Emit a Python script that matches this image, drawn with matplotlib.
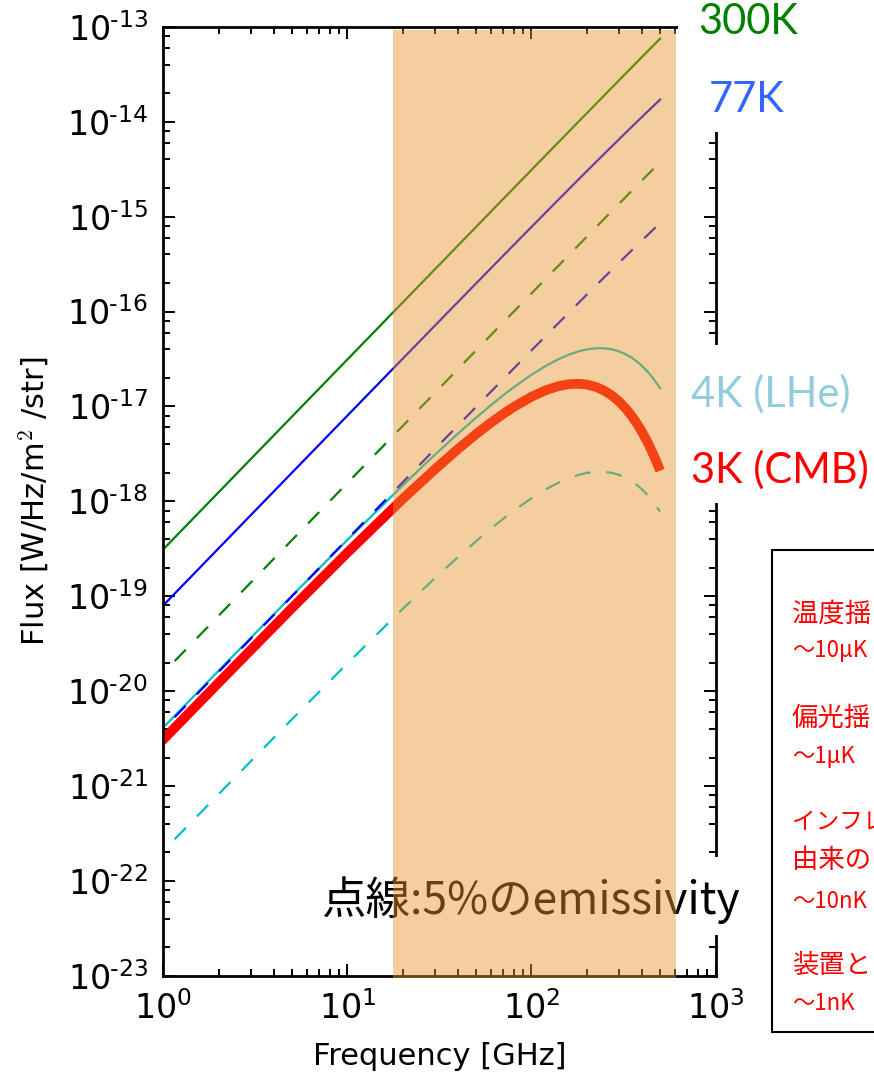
import numpy as np
import matplotlib
matplotlib.use("Agg")
import matplotlib.pyplot as plt
import matplotlib.transforms as mtransforms
from matplotlib.patches import Rectangle
from matplotlib.ticker import LogLocator, FixedLocator, FuncFormatter, NullFormatter

# ---------------------------------------------------------------- data
freq_ghz = [0.5, 1, 2, 5, 10, 20, 30, 40, 50, 60, 70, 80, 100, 120, 140, 160,
            180, 200, 225, 250, 275, 300, 325, 350, 375, 400, 425, 450, 475, 500]

flux_300k = [7.81e-20, 3.125e-19, 1.250e-18, 7.81e-18, 3.123e-17, 1.248e-16,
             2.806e-16, 4.985e-16, 7.78e-16, 1.120e-15, 1.523e-15, 1.988e-15,
             3.101e-15, 4.458e-15, 6.058e-15, 7.900e-15, 9.982e-15, 1.230e-14,
             1.554e-14, 1.915e-14, 2.312e-14, 2.746e-14, 3.216e-14, 3.723e-14,
             4.265e-14, 4.843e-14, 5.456e-14, 6.104e-14, 6.787e-14, 7.506e-14]

flux_77k = [2.005e-20, 8.02e-20, 3.207e-19, 2.003e-18, 7.998e-18, 3.189e-17,
            7.153e-17, 1.268e-16, 1.975e-16, 2.834e-16, 3.846e-16, 5.007e-16,
            7.775e-16, 1.113e-15, 1.505e-15, 1.953e-15, 2.456e-15, 3.013e-15,
            3.783e-15, 4.634e-15, 5.562e-15, 6.566e-15, 7.644e-15, 8.795e-15,
            1.002e-14, 1.130e-14, 1.266e-14, 1.407e-14, 1.555e-14, 1.709e-14]

flux_4k = [1.039e-21, 4.14e-21, 1.647e-20, 1.011e-19, 3.92e-19, 1.475e-18,
           3.12e-18, 5.20e-18, 7.60e-18, 1.024e-17, 1.303e-17, 1.589e-17,
           2.156e-17, 2.683e-17, 3.144e-17, 3.520e-17, 3.803e-17, 3.993e-17,
           4.105e-17, 4.096e-17, 3.984e-17, 3.795e-17, 3.548e-17, 3.266e-17,
           2.964e-17, 2.658e-17, 2.356e-17, 2.069e-17, 1.801e-17, 1.555e-17]

flux_cmb = [7.78e-22, 3.10e-21, 1.230e-20, 7.51e-20, 2.88e-19, 1.061e-18,
            2.19e-18, 3.57e-18, 5.10e-18, 6.70e-18, 8.31e-18, 9.86e-18,
            1.265e-17, 1.485e-17, 1.635e-17, 1.717e-17, 1.735e-17, 1.701e-17,
            1.601e-17, 1.459e-17, 1.294e-17, 1.121e-17, 9.53e-18, 7.96e-18,
            6.56e-18, 5.33e-18, 4.28e-18, 3.41e-18, 2.69e-18, 2.10e-18]

# 5% emissivity versions (dashed)
flux_300k_e5 = [3.91e-21, 1.56e-20, 6.25e-20, 3.91e-19, 1.56e-18, 6.24e-18,
                1.40e-17, 2.49e-17, 3.89e-17, 5.60e-17, 7.62e-17, 9.94e-17,
                1.55e-16, 2.23e-16, 3.03e-16, 3.95e-16, 4.99e-16, 6.15e-16,
                7.77e-16, 9.58e-16, 1.156e-15, 1.373e-15, 1.608e-15, 1.862e-15,
                2.133e-15, 2.422e-15, 2.728e-15, 3.052e-15, 3.394e-15, 3.753e-15]

flux_77k_e5 = [1.00e-21, 4.01e-21, 1.60e-20, 1.00e-19, 4.00e-19, 1.59e-18,
               3.58e-18, 6.34e-18, 9.87e-18, 1.42e-17, 1.92e-17, 2.50e-17,
               3.89e-17, 5.56e-17, 7.53e-17, 9.77e-17, 1.23e-16, 1.51e-16,
               1.89e-16, 2.32e-16, 2.78e-16, 3.28e-16, 3.82e-16, 4.40e-16,
               5.01e-16, 5.65e-16, 6.33e-16, 7.04e-16, 7.78e-16, 8.55e-16]

flux_4k_e5 = [5.20e-23, 2.07e-22, 8.24e-22, 5.06e-21, 1.96e-20, 7.38e-20,
              1.56e-19, 2.60e-19, 3.80e-19, 5.12e-19, 6.52e-19, 7.95e-19,
              1.078e-18, 1.342e-18, 1.572e-18, 1.760e-18, 1.902e-18, 1.997e-18,
              2.053e-18, 2.048e-18, 1.992e-18, 1.898e-18, 1.774e-18, 1.633e-18,
              1.482e-18, 1.329e-18, 1.178e-18, 1.035e-18, 9.01e-19, 7.78e-19]

band_ghz = [17.7, 611]

x_major = [1, 10, 100, 1000]
y_major = [1e-23, 1e-22, 1e-21, 1e-20, 1e-19, 1e-18, 1e-17, 1e-16, 1e-15,
           1e-14, 1e-13]

temp_labels = ["300K", "77K", "4K (LHe)", "3K (CMB)"]
note_text = "点線:5%のemissivity"
box_lines = ["温度揺", "〜10μK", "偏光揺", "〜1μK",
             "インフレ", "由来の", "〜10nK", "装置と", "〜1nK"]

# ---------------------------------------------------------------- style
W, H = 874, 1079
plt.rcParams["mathtext.fontset"] = "cm"
plt.rcParams["lines.scale_dashes"] = False
plt.rcParams["font.family"] = ["DejaVu Sans"]

fig = plt.figure(figsize=(W / 100, H / 100), dpi=100)
fig.patch.set_facecolor("white")


def fx(px):
    return px / W


def fy(py):
    return 1 - py / H


ax_l, ax_r, ax_t, ax_b = 163.3, 715.5, 26.8, 975.9
ax = fig.add_axes([fx(ax_l), fy(ax_b), fx(ax_r) - fx(ax_l), fy(ax_t) - fy(ax_b)])
ax.set_xscale("log")
ax.set_yscale("log")
ax.set_xlim(1, 1000)
ax.set_ylim(1e-23, 1e-13)

thin = 1.6
dash = (11.5, 11.5)
ax.plot(freq_ghz, flux_300k, color="g", lw=thin, zorder=2)
ax.plot(freq_ghz, flux_77k, color="b", lw=thin, zorder=2)
ax.plot(freq_ghz, flux_4k, color="c", lw=thin, zorder=2)
ax.plot(freq_ghz, flux_cmb, color="r", lw=7, zorder=2, solid_capstyle="butt")
ax.plot(freq_ghz, flux_300k_e5, color="g", lw=thin, dashes=dash, zorder=2)
ax.plot(freq_ghz, flux_77k_e5, color="b", lw=thin, dashes=dash, zorder=2)
ax.plot(freq_ghz, flux_4k_e5, color="c", lw=thin, dashes=dash, zorder=2)

# translucent observing band laid over everything inside the frame
band_tr = mtransforms.blended_transform_factory(ax.transData, ax.transAxes)
ax.add_patch(Rectangle((band_ghz[0], -0.002), band_ghz[1] - band_ghz[0], 0.9985,
                       transform=band_tr, facecolor=(235 / 255, 148 / 255, 46 / 255),
                       alpha=0.45, edgecolor="none", zorder=5, clip_on=False))

# ticks
for spine in ax.spines.values():
    spine.set_linewidth(2.0)
ax.tick_params(which="both", direction="in", top=True, right=True, width=1.4,
               labelsize=24)
ax.tick_params(which="major", length=8.4)
ax.tick_params(which="minor", length=4.8)
ax.tick_params(axis="x", which="major", pad=11)
ax.tick_params(axis="y", which="major", pad=11)
ax.xaxis.set_major_locator(FixedLocator(x_major))
ax.yaxis.set_major_locator(FixedLocator(y_major))
ax.xaxis.set_minor_locator(LogLocator(base=10, subs=np.arange(2, 10), numticks=20))
ax.yaxis.set_minor_locator(LogLocator(base=10, subs=[2, 4, 6, 8], numticks=40))


def pow_label(v, pos):
    e = int(round(np.log10(v)))
    if e < 0:
        return r"$\mathdefault{10^{\text{-}%d}}$" % (-e)
    return r"$\mathdefault{10^{%d}}$" % e


ax.xaxis.set_major_formatter(FuncFormatter(pow_label))
ax.yaxis.set_major_formatter(FuncFormatter(pow_label))
ax.xaxis.set_minor_formatter(NullFormatter())
ax.yaxis.set_minor_formatter(NullFormatter())

ax.set_xlabel("Frequency [GHz]", fontsize=22)
ax.set_ylabel("Flux [W/Hz/m$^2$ /str]", fontsize=22)
ax.xaxis.set_label_coords(0.5, -0.070)
ax.yaxis.set_label_coords(-0.204, 0.5)

# ---------------------------------------------------------------- annotations
ft = fig.transFigure


def white_box(x0, y0, x1, y1, z=4, edge="none", lw=0):
    ax.add_patch(Rectangle((fx(x0), fy(y1)), fx(x1) - fx(x0), fy(y0) - fy(y1),
                           transform=ft, facecolor="white", edgecolor=edge,
                           linewidth=lw, zorder=z, clip_on=False))


label_font = ["Lato", "Noto Sans CJK JP", "DejaVu Sans"]
cjk_font = ["Noto Sans CJK JP", "DejaVu Sans"]

white_box(678, -5, 890, 132)
white_box(680, 345, 890, 503)
white_box(310, 857, 742, 935)

temp_pos = [(698, 34), (709, 112), (691, 407), (691, 483)]
temp_colors = ["#008000", "#3366FF", "#92CDDC", "#FF0000"]
for txt, (px, py), col in zip(temp_labels, temp_pos, temp_colors):
    ax.text(fx(px), fy(py), txt, transform=ft, color=col, fontsize=30,
            family=label_font, ha="left", va="baseline", zorder=4.5, clip_on=False)

ax.text(fx(321), fy(914), note_text, transform=ft, color="black", fontsize=32,
        family=cjk_font, ha="left", va="baseline", zorder=4.5, clip_on=False)

# framed box of sensitivity notes on the right
white_box(772, 550, 900, 1032, edge="black", lw=1.5)
box_y = [614, 651, 718, 757, 823, 861, 901, 965, 1003]
box_size = [19, 16, 19, 16, 17, 19, 16, 19, 16]
for txt, py, fs in zip(box_lines, box_y, box_size):
    ax.text(fx(792), fy(py), txt, transform=ft, color="#FF0000",
            fontsize=fs, family=cjk_font, ha="left", va="center",
            zorder=4.5, clip_on=False)

fig.savefig("out.png", dpi=100)
